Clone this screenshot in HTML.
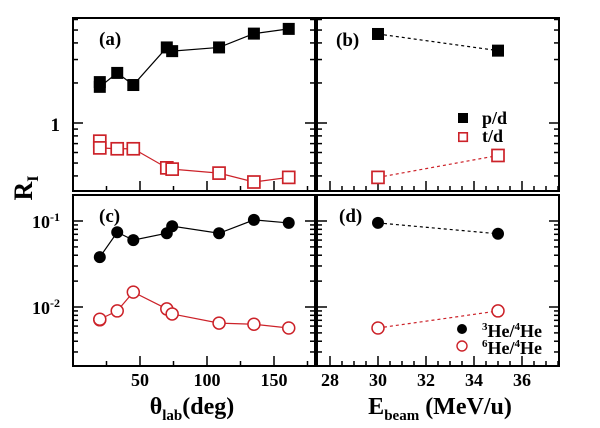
<!DOCTYPE html>
<html><head><meta charset="utf-8"><style>
html,body{margin:0;padding:0;background:#fff;}
svg{display:block;font-family:"Liberation Serif",serif;font-weight:bold;}
</style></head><body>
<svg id="c" width="600" height="428" viewBox="0 0 600 428" xmlns="http://www.w3.org/2000/svg"></svg>
<script>
const angles = [20, 20, 33, 45, 70, 74, 109, 135, 161];
const pdAngle = [2.03, 1.87, 2.38, 1.93, 3.7, 3.47, 3.7, 4.7, 5.1];
const tdAngle = [0.73, 0.65, 0.64, 0.64, 0.46, 0.45, 0.42, 0.36, 0.39];
const anglesHe = [20, 33, 45, 70, 74, 109, 135, 161];
const he3Angle = [0.038, 0.074, 0.060, 0.072, 0.087, 0.072, 0.103, 0.095];
const he6Angle = [0.0071, 0.0072, 0.0090, 0.0149, 0.0095, 0.0083, 0.0065, 0.0063, 0.0057];
const energies = [30, 35];
const pdE = [4.67, 3.5];
const tdE = [0.39, 0.57];
const he3E = [0.095, 0.071];
const he6E = [0.0057, 0.0090];
const xTicksAngle = [50, 100, 150];
const xTicksE = [28, 30, 32, 34, 36];

const NS = "http://www.w3.org/2000/svg";
const svg = document.getElementById('c');
function el(tag, attrs, parent) {
  const e = document.createElementNS(NS, tag);
  for (const k in attrs) e.setAttribute(k, attrs[k]);
  (parent || svg).appendChild(e);
  return e;
}
const L = {x0: 73, x1: 315}, R = {x0: 317, x1: 559};
const T = {y0: 18, y1: 191}, B = {y0: 195, y1: 366};
const xA = v => 73 + v * 1.34;
const xE = v => 378 + (v - 30) * 24;
const yT = v => 123 - Math.log10(v) * 133;
const yB = v => 307 - (Math.log10(v) + 2) * 86;
const RED = "#cc2229";

function frame(px, py, name) {
  const r = el('rect', {x: px.x0, y: py.y0, width: px.x1 - px.x0, height: py.y1 - py.y0, fill: 'none', stroke: '#000', 'stroke-width': 2});
  
  
}
function yTicks(px, py, yf, decades) {
  const g = el('g', {stroke: '#000', 'stroke-width': 1.5});
  
  
  decades.forEach(d => {
    for (let m = 1; m <= 9; m++) {
      const v = m * Math.pow(10, d);
      const y = yf(v);
      if (y < py.y0 + 1 || y > py.y1 - 1) continue;
      const len = m === 1 ? 10 : 5;
      el('line', {x1: px.x0, x2: px.x0 + len, y1: y, y2: y}, g);
      el('line', {x1: px.x1, x2: px.x1 - len, y1: y, y2: y}, g);
    }
  });
}
function xTicks(py, xf, lo, hi, major, minorStep) {
  const g = el('g', {stroke: '#000', 'stroke-width': 1.5});
  
  
  for (let v = lo; v <= hi + 1e-9; v += minorStep) {
    const isMaj = major.some(m => Math.abs(m - v) < 1e-6);
    el('line', {x1: xf(v), x2: xf(v), y1: py.y1, y2: py.y1 - (isMaj ? 10 : 5)}, g);
  }
}
function series(xs, ys, xf, yf, color, dash, marker, filled, name) {
  const g = el('g', {});
  
  
  const pts = xs.map((x, i) => xf(x) + ',' + yf(ys[i])).join(' ');
  el('polyline', {points: pts, fill: 'none', stroke: color, 'stroke-width': 1.2, 'stroke-dasharray': dash ? '3,3' : 'none'}, g);
  xs.forEach((x, i) => {
    const cx = xf(x), cy = yf(ys[i]);
    let m;
    if (marker === 'sq') m = el('rect', {x: cx - 6, y: cy - 6, width: 12, height: 12, fill: filled ? color : '#fff', stroke: color, 'stroke-width': filled ? 0 : 1.7}, g);
    else m = el('circle', {cx: cx, cy: cy, r: 6, fill: filled ? color : '#fff', stroke: color, 'stroke-width': filled ? 0 : 1.5}, g);
    
    
  });
}
function text(x, y, s, size, anchor, name) {
  const t = el('text', {x: x, y: y, 'font-size': size, 'text-anchor': anchor || 'start'});
  t.innerHTML = s;
  
  
  return t;
}

yTicks(L, T, yT, [-1, 0]); yTicks(R, T, yT, [-1, 0]);
yTicks(L, B, yB, [-3, -2, -1]); yTicks(R, B, yB, [-3, -2, -1]);
xTicks(T, xA, 25, 175, xTicksAngle, 25); xTicks(B, xA, 25, 175, xTicksAngle, 25);
xTicks(T, xE, 28, 37.5, xTicksE, 0.5); xTicks(B, xE, 28, 37.5, xTicksE, 0.5);

series(angles, pdAngle, xA, yT, '#000', false, 'sq', true, 'pd-angle-series');
series(angles, tdAngle, xA, yT, RED, false, 'sq', false, 'td-angle-series');
series(anglesHe, he3Angle, xA, yB, '#000', false, 'ci', true, 'he3-angle-series');
series(angles, he6Angle, xA, yB, RED, false, 'ci', false, 'he6-angle-series');
series(energies, pdE, xE, yT, '#000', true, 'sq', true, 'pd-energy-series');
series(energies, tdE, xE, yT, RED, true, 'sq', false, 'td-energy-series');
series(energies, he3E, xE, yB, '#000', true, 'ci', true, 'he3-energy-series');
series(energies, he6E, xE, yB, RED, true, 'ci', false, 'he6-energy-series');

frame(L, T, 'panel-a'); frame(R, T, 'panel-b'); frame(L, B, 'panel-c'); frame(R, B, 'panel-d');

text(99, 45, '(a)', 19, 'start', 'panel-a-label');
text(336, 46, '(b)', 19, 'start', 'panel-b-label');
text(99, 222, '(c)', 19, 'start', 'panel-c-label');
text(339, 222, '(d)', 19, 'start', 'panel-d-label');

text(60, 131, '1', 19, 'end', 'y-tick-1');
text(32, 228, '10<tspan dy="-7" font-size="12">-1</tspan>', 18, 'start', 'y-tick-0.1');
text(32, 314, '10<tspan dy="-7" font-size="12">-2</tspan>', 18, 'start', 'y-tick-0.01');

xTicksAngle.forEach(v => text(xA(v), 386, v, 18, 'middle', 'x-tick-angle-' + v));
xTicksE.forEach(v => text(xE(v), 386, v, 18, 'middle', 'x-tick-energy-' + v));

text(192, 414, 'θ<tspan dy="6" font-size="15">lab</tspan><tspan dy="-6">(deg)</tspan>', 24, 'middle', 'x-axis-title-angle');
text(440, 414, 'E<tspan dy="6" font-size="15">beam</tspan><tspan dy="-6"> (MeV/u)</tspan>', 24, 'middle', 'x-axis-title-energy');
const yt = text(0, 0, 'R<tspan dy="6" font-size="16">I</tspan>', 26, 'middle', 'y-axis-title');
yt.setAttribute('transform', 'translate(32,188) rotate(-90)');

const lg1 = el('g', {});  
el('rect', {x: 458, y: 113, width: 10, height: 10, fill: '#000'}, lg1);
el('rect', {x: 458.8, y: 132.8, width: 8.5, height: 8.5, fill: '#fff', stroke: RED, 'stroke-width': 1.6}, lg1);
text(482, 124, 'p/d', 18, 'start', 'legend-pd');
text(482, 142, 't/d', 18, 'start', 'legend-td');
const lg2 = el('g', {});  
el('circle', {cx: 462, cy: 329, r: 5, fill: '#000'}, lg2);
el('circle', {cx: 462, cy: 346, r: 5, fill: '#fff', stroke: RED, 'stroke-width': 1.4}, lg2);
text(482, 337, '<tspan dy="-7" font-size="11">3</tspan><tspan dy="7">He/</tspan><tspan dy="-7" font-size="11">4</tspan><tspan dy="7">He</tspan>', 18, 'start', 'legend-he3');
text(482, 354, '<tspan dy="-7" font-size="11">6</tspan><tspan dy="7">He/</tspan><tspan dy="-7" font-size="11">4</tspan><tspan dy="7">He</tspan>', 18, 'start', 'legend-he6');
</script>
</body></html>
